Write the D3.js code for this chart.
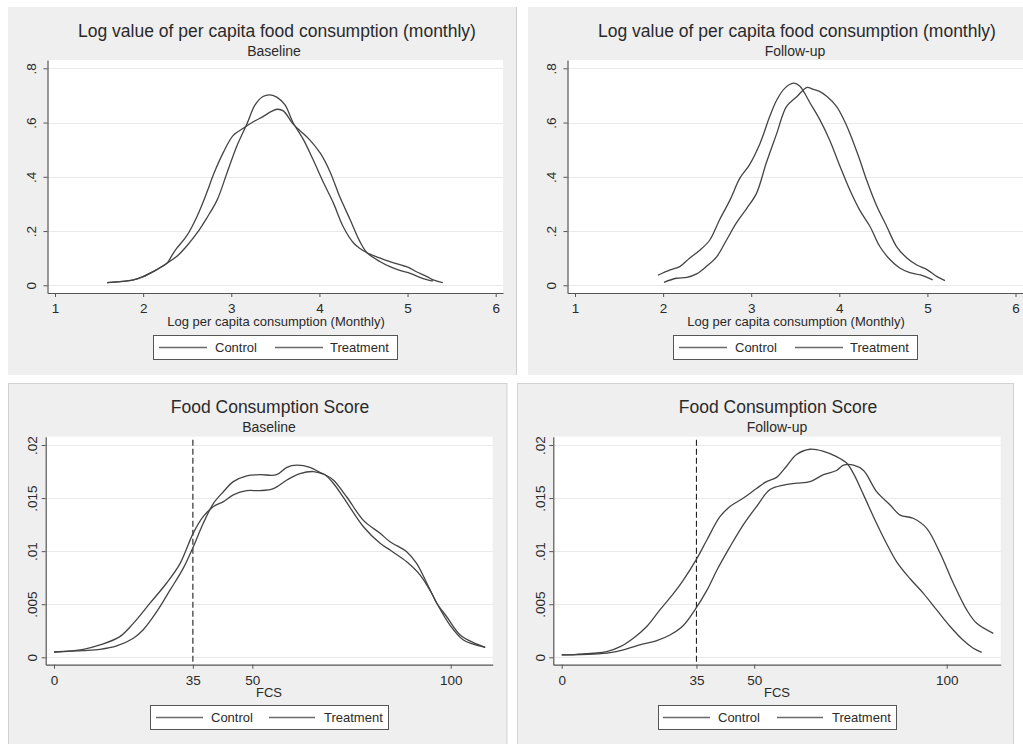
<!DOCTYPE html>
<html>
<head>
<meta charset="utf-8">
<script src="https://cdn.jsdelivr.net/npm/d3@7"></script>
<style>
  html, body { margin: 0; padding: 0; background: #ffffff; }
  svg { display: block; }
</style>
</head>
<body>
<svg id="chart" width="1023" height="744"></svg>
<script>
// ---------------- DATA ----------------
const logTicksX = [1, 2, 3, 4, 5, 6];
const logTicksY = [0, 0.2, 0.4, 0.6, 0.8];
const logTickLabelsY = ["0", ".2", ".4", ".6", ".8"];
const fcsTicksX = [0, 35, 50, 100];
const fcsTicksY = [0, 0.005, 0.01, 0.015, 0.02];
const fcsTickLabelsY = ["0", ".005", ".01", ".015", ".02"];
const fcsCutoff = 35;
const legendLabels = ["Control", "Treatment"];

const titleLog = "Log value of per capita food consumption (monthly)";
const titleFcs = "Food Consumption Score";
const subtitles = ["Baseline", "Follow-up"];
const xTitleLog = "Log per capita consumption (Monthly)";
const xTitleFcs = "FCS";

// Log consumption, baseline
const logBaseControl = [[1.59,0.010],[1.74,0.0135],[1.89,0.02],[2.0,0.032],[2.15,0.057],[2.27,0.081],[2.33,0.112],[2.38,0.136],[2.49,0.18],[2.61,0.253],[2.72,0.34],[2.80,0.41],[2.91,0.49],[3.02,0.552],[3.14,0.58],[3.25,0.603],[3.36,0.622],[3.45,0.64],[3.52,0.649],[3.59,0.643],[3.70,0.595],[3.78,0.57],[3.89,0.536],[4.01,0.487],[4.12,0.419],[4.23,0.327],[4.35,0.241],[4.46,0.161],[4.54,0.12],[4.69,0.087],[4.80,0.069],[4.92,0.054],[5.03,0.044],[5.14,0.029],[5.26,0.017],[5.29,0.016]];
const logBaseTreat = [[1.59,0.010],[1.89,0.02],[2.0,0.032],[2.15,0.057],[2.27,0.081],[2.38,0.106],[2.49,0.143],[2.61,0.192],[2.72,0.247],[2.84,0.315],[2.95,0.413],[3.06,0.511],[3.18,0.597],[3.27,0.665],[3.36,0.696],[3.44,0.702],[3.52,0.693],[3.61,0.665],[3.70,0.60],[3.82,0.536],[3.93,0.462],[4.05,0.376],[4.16,0.302],[4.27,0.216],[4.39,0.155],[4.46,0.136],[4.54,0.12],[4.69,0.10],[4.80,0.087],[4.92,0.075],[5.01,0.066],[5.10,0.05],[5.22,0.032],[5.29,0.02],[5.40,0.01]];

// Log consumption, follow-up
const logFollowControl = [[1.94,0.037],[2.08,0.057],[2.19,0.069],[2.30,0.10],[2.42,0.13],[2.53,0.167],[2.64,0.241],[2.76,0.315],[2.87,0.394],[2.98,0.444],[3.10,0.523],[3.21,0.622],[3.29,0.683],[3.38,0.726],[3.48,0.745],[3.55,0.735],[3.67,0.671],[3.78,0.61],[3.89,0.536],[4.01,0.437],[4.12,0.351],[4.23,0.278],[4.35,0.216],[4.46,0.143],[4.58,0.093],[4.69,0.063],[4.80,0.047],[4.92,0.038],[5.06,0.02]];
const logFollowTreat = [[2.01,0.011],[2.15,0.026],[2.27,0.029],[2.38,0.042],[2.49,0.069],[2.61,0.106],[2.72,0.167],[2.83,0.229],[2.95,0.284],[3.06,0.339],[3.17,0.45],[3.29,0.56],[3.40,0.659],[3.52,0.696],[3.63,0.729],[3.70,0.723],[3.78,0.714],[3.86,0.696],[3.97,0.659],[4.08,0.591],[4.22,0.474],[4.31,0.388],[4.42,0.296],[4.54,0.216],[4.65,0.143],[4.77,0.10],[4.88,0.075],[5.0,0.057],[5.11,0.032],[5.20,0.017]];

// FCS, baseline
const fcsBaseControl = [[0,0.0005],[7.4,0.00075],[11.6,0.00116],[16.6,0.00195],[20,0.0032],[24.2,0.0051],[28.4,0.007],[31.8,0.00885],[35.1,0.0117],[37.6,0.01325],[40.2,0.0142],[42.7,0.01466],[45.2,0.0153],[48.6,0.0157],[51.9,0.0157],[55.3,0.0159],[58.7,0.0167],[62,0.0173],[65.4,0.0175],[68.3,0.0172],[70.4,0.0167],[73.8,0.0151],[78.0,0.0129],[82.2,0.01168],[84.7,0.01089],[88.9,0.00995],[91.4,0.00885],[94.0,0.00697],[96.5,0.00509],[99.8,0.00304],[103.2,0.00163],[105.7,0.00125],[108.7,0.00094]];
const fcsBaseTreat = [[0,0.0005],[7.4,0.00063],[11.6,0.00075],[15.8,0.00107],[20,0.0018],[22.5,0.0026],[25.9,0.0043],[29.2,0.0063],[32.6,0.0084],[35.1,0.0104],[37.6,0.0126],[40.2,0.0145],[42.7,0.0156],[45.2,0.01655],[48.6,0.0171],[51.9,0.0172],[56.1,0.0172],[58.7,0.0179],[61.2,0.0181],[64.5,0.0179],[67.1,0.0174],[68.3,0.0172],[70.4,0.0164],[72.9,0.0151],[78.0,0.0123],[82.2,0.01074],[84.7,0.0101],[88.9,0.009],[92.3,0.00775],[95.2,0.00603],[96.5,0.00509],[99.0,0.00382],[102.4,0.0021],[105.7,0.00138],[108.7,0.00094]];

// FCS, follow-up
const fcsFollowControl = [[0,0.00022],[3.9,0.00028],[8.2,0.00038],[11.7,0.00053],[15.2,0.001],[18.6,0.0018],[22.1,0.0029],[25.5,0.00446],[29,0.006],[31.6,0.00728],[35.1,0.0093],[37.7,0.01105],[41.1,0.01325],[43.7,0.0142],[47.2,0.015],[50.6,0.0159],[53.2,0.01655],[55.8,0.01695],[58.4,0.018],[61,0.0191],[64.5,0.0196],[68,0.0194],[71.4,0.0189],[74,0.0183],[75.8,0.0173],[78.4,0.0153],[81.8,0.0126],[84.4,0.0107],[87,0.009],[90.5,0.0074],[94,0.006],[97.4,0.00446],[100.9,0.0029],[104.3,0.0016],[106.9,0.00085],[109.1,0.00047]];
const fcsFollowTreat = [[0,0.00022],[8.2,0.0003],[12.6,0.00044],[16,0.0007],[21.2,0.00126],[24.7,0.00157],[28.1,0.0021],[31.6,0.003],[34.6,0.00446],[37.7,0.0063],[40.3,0.0082],[43.7,0.0104],[47.2,0.0125],[50.6,0.0142],[54.1,0.0158],[57.6,0.01623],[61,0.0164],[64.5,0.01655],[68,0.0172],[71.4,0.0176],[73.2,0.0181],[75.8,0.0181],[78.4,0.0176],[81.8,0.0156],[85.3,0.01435],[87.9,0.0134],[91.3,0.0131],[94.8,0.01215],[98.3,0.0098],[101.7,0.007],[105.2,0.00446],[107.8,0.0032],[112.1,0.00226]];

// ---------------- DRAWING ----------------
const FONT = "'Liberation Sans', Arial, Helvetica, sans-serif";
const TEXT = "#2a2a2a";
const svg = d3.select("#chart");
svg.append("rect").attr("x", 0).attr("y", 0).attr("width", 1023).attr("height", 744).attr("fill", "#ffffff");

// panel backgrounds
svg.append("rect").attr("x", 8).attr("y", 7).attr("width", 508).attr("height", 368).attr("fill", "#efefef");
svg.append("line").attr("x1", 516.5).attr("x2", 516.5).attr("y1", 7).attr("y2", 375).attr("stroke", "#cdcdcd");
svg.append("rect").attr("x", 528).attr("y", 7).attr("width", 500).attr("height", 368).attr("fill", "#efefef");
svg.append("rect").attr("x", 8.5).attr("y", 383.5).attr("width", 498.5).attr("height", 370).attr("fill", "#efefef").attr("stroke", "#d2d2d2");
svg.append("rect").attr("x", 517.5).attr("y", 383.5).attr("width", 496).attr("height", 370).attr("fill", "#efefef").attr("stroke", "#d2d2d2");

function makeScale(v1, p1, v2, p2, e0, e1) {
  const s = d3.scaleLinear().domain([v1, v2]).range([p1, p2]);
  return d3.scaleLinear().domain([s.invert(e0), s.invert(e1)]).range([e0, e1]);
}

function drawPanel(p) {
  const g = svg.append("g");
  const x = makeScale(p.xA[0], p.xA[1], p.xA[2], p.xA[3], p.x0, p.x1);
  const y = makeScale(p.yA[0], p.yA[1], p.yA[2], p.yA[3], p.y1, p.y0);

  g.append("rect").attr("x", p.x0).attr("y", p.y0).attr("width", p.x1 - p.x0).attr("height", p.y1 - p.y0).attr("fill", "#ffffff");

  // gridlines
  g.selectAll("line.grid").data(p.yTicks).enter().append("line")
    .attr("class", "grid")
    .attr("x1", p.x0).attr("x2", p.x1)
    .attr("y1", d => Math.round(y(d)) + 0.5).attr("y2", d => Math.round(y(d)) + 0.5)
    .attr("stroke", "#e9e9e9").attr("stroke-width", 1.2);

  if (p.cutoff !== undefined) {
    g.append("line")
      .attr("x1", x(p.cutoff)).attr("x2", x(p.cutoff))
      .attr("y1", p.y0 + 3).attr("y2", p.y1)
      .attr("stroke", p.cutColor).attr("stroke-width", p.cutWidth)
      .attr("stroke-dasharray", "6,3");
  }

  const line = d3.line().x(d => x(d[0])).y(d => y(d[1])).curve(d3.curveCatmullRom.alpha(0.5));
  p.series.forEach(s => {
    g.append("path").datum(s).attr("d", line)
      .attr("fill", "none").attr("stroke", "#444").attr("stroke-width", 1.3)
      .attr("stroke-linejoin", "round");
  });

  // x axis
  const xAxis = g.append("g").attr("transform", `translate(0,${p.y1})`)
    .call(d3.axisBottom(x).tickValues(p.xTicks).tickSize(4).tickSizeOuter(0).tickFormat(d => String(d)));
  xAxis.select(".domain").attr("stroke", "#555").attr("stroke-width", 1.2);
  xAxis.selectAll(".tick line").attr("stroke", "#555");
  xAxis.selectAll(".tick text").attr("y", p.tickBase).attr("dy", 0)
    .attr("font-family", FONT).attr("font-size", 13.5).attr("fill", TEXT);

  // y axis
  const yAxis = g.append("g").attr("transform", `translate(${p.x0},0)`)
    .call(d3.axisLeft(y).tickValues(p.yTicks).tickSize(4).tickSizeOuter(0).tickFormat((d, i) => p.yLabels[i]));
  yAxis.select(".domain").attr("stroke", "#555").attr("stroke-width", 1.2);
  yAxis.selectAll(".tick line").attr("stroke", "#555");
  yAxis.selectAll(".tick text")
    .attr("transform", "rotate(-90)")
    .attr("x", 0).attr("y", -p.yLabOff).attr("dy", "0.35em")
    .attr("text-anchor", "middle")
    .attr("font-family", FONT).attr("font-size", 13.5).attr("fill", TEXT);

  // titles
  g.append("text").attr("x", p.tx).attr("y", p.ty).attr("text-anchor", "middle")
    .attr("font-family", FONT).attr("font-size", 17.5).attr("fill", TEXT).text(p.title);
  g.append("text").attr("x", p.sx).attr("y", p.sy).attr("text-anchor", "middle")
    .attr("font-family", FONT).attr("font-size", 14).attr("fill", TEXT).text(p.subtitle);
  g.append("text").attr("x", p.ax).attr("y", p.ay).attr("text-anchor", "middle")
    .attr("font-family", FONT).attr("font-size", 13).attr("fill", TEXT).text(p.xTitle);

  // legend
  const L = p.legend;
  g.append("rect").attr("x", L.x0 + 0.5).attr("y", L.y0 + 0.5).attr("width", L.x1 - L.x0).attr("height", L.y1 - L.y0)
    .attr("fill", "#ffffff").attr("stroke", "#555").attr("stroke-width", 1);
  const ly = Math.round((L.y0 + L.y1) / 2) + 0.5;
  L.items.forEach((it, i) => {
    g.append("line").attr("x1", it[0]).attr("x2", it[1]).attr("y1", ly).attr("y2", ly)
      .attr("stroke", "#6a6a6a").attr("stroke-width", 1.4);
    g.append("text").attr("x", it[2]).attr("y", L.base)
      .attr("font-family", FONT).attr("font-size", 13).attr("fill", TEXT).text(legendLabels[i]);
  });
}

// Top-left
drawPanel({
  x0: 47.5, x1: 503, y0: 60, y1: 293,
  xA: [1, 55, 6, 495.7], yA: [0, 285.3, 0.8, 68.3],
  xTicks: logTicksX, yTicks: logTicksY, yLabels: logTickLabelsY,
  series: [logBaseControl, logBaseTreat],
  title: titleLog, subtitle: subtitles[0], xTitle: xTitleLog,
  tx: 277, ty: 36.5, sx: 274, sy: 55.5, ax: 276, ay: 325.5,
  tickBase: 19.5, yLabOff: 16,
  legend: { x0: 153, x1: 397, y0: 335, y1: 359, base: 352,
            items: [[159, 207, 215], [275, 323, 330]] }
});

// Top-right
drawPanel({
  x0: 567.5, x1: 1023, y0: 60, y1: 293,
  xA: [1, 575, 6, 1015.5], yA: [0, 285.3, 0.8, 68.3],
  xTicks: logTicksX, yTicks: logTicksY, yLabels: logTickLabelsY,
  series: [logFollowControl, logFollowTreat],
  title: titleLog, subtitle: subtitles[1], xTitle: xTitleLog,
  tx: 797, ty: 36.5, sx: 795, sy: 55.5, ax: 796, ay: 325.5,
  tickBase: 19.5, yLabOff: 16,
  legend: { x0: 673, x1: 917, y0: 335, y1: 359, base: 352,
            items: [[679, 727, 735], [795, 843, 850]] }
});

// Bottom-left
drawPanel({
  x0: 45.7, x1: 492.7, y0: 436.7, y1: 664.7,
  xA: [0, 54, 100, 450.7], yA: [0, 657.3, 0.02, 445],
  xTicks: fcsTicksX, yTicks: fcsTicksY, yLabels: fcsTickLabelsY,
  series: [fcsBaseControl, fcsBaseTreat],
  cutoff: fcsCutoff, cutColor: "#5a5a5a", cutWidth: 1.5,
  title: titleFcs, subtitle: subtitles[0], xTitle: xTitleFcs,
  tx: 270, ty: 413, sx: 269, sy: 432, ax: 269, ay: 696.5,
  tickBase: 20, yLabOff: 13.5,
  legend: { x0: 150, x1: 388, y0: 705, y1: 729, base: 722,
            items: [[156, 203, 211], [269, 315, 324]] }
});

// Bottom-right
drawPanel({
  x0: 553.3, x1: 1000.7, y0: 436.7, y1: 664.7,
  xA: [0, 561.7, 100, 946.7], yA: [0, 657.3, 0.02, 445],
  xTicks: fcsTicksX, yTicks: fcsTicksY, yLabels: fcsTickLabelsY,
  series: [fcsFollowControl, fcsFollowTreat],
  cutoff: fcsCutoff, cutColor: "#222", cutWidth: 1.1,
  title: titleFcs, subtitle: subtitles[1], xTitle: xTitleFcs,
  tx: 778, ty: 413, sx: 777, sy: 432, ax: 777, ay: 696.5,
  tickBase: 20, yLabOff: 13,
  legend: { x0: 658, x1: 896, y0: 705, y1: 729, base: 722,
            items: [[663, 710, 718], [777, 823, 832]] }
});
</script>
</body>
</html>
